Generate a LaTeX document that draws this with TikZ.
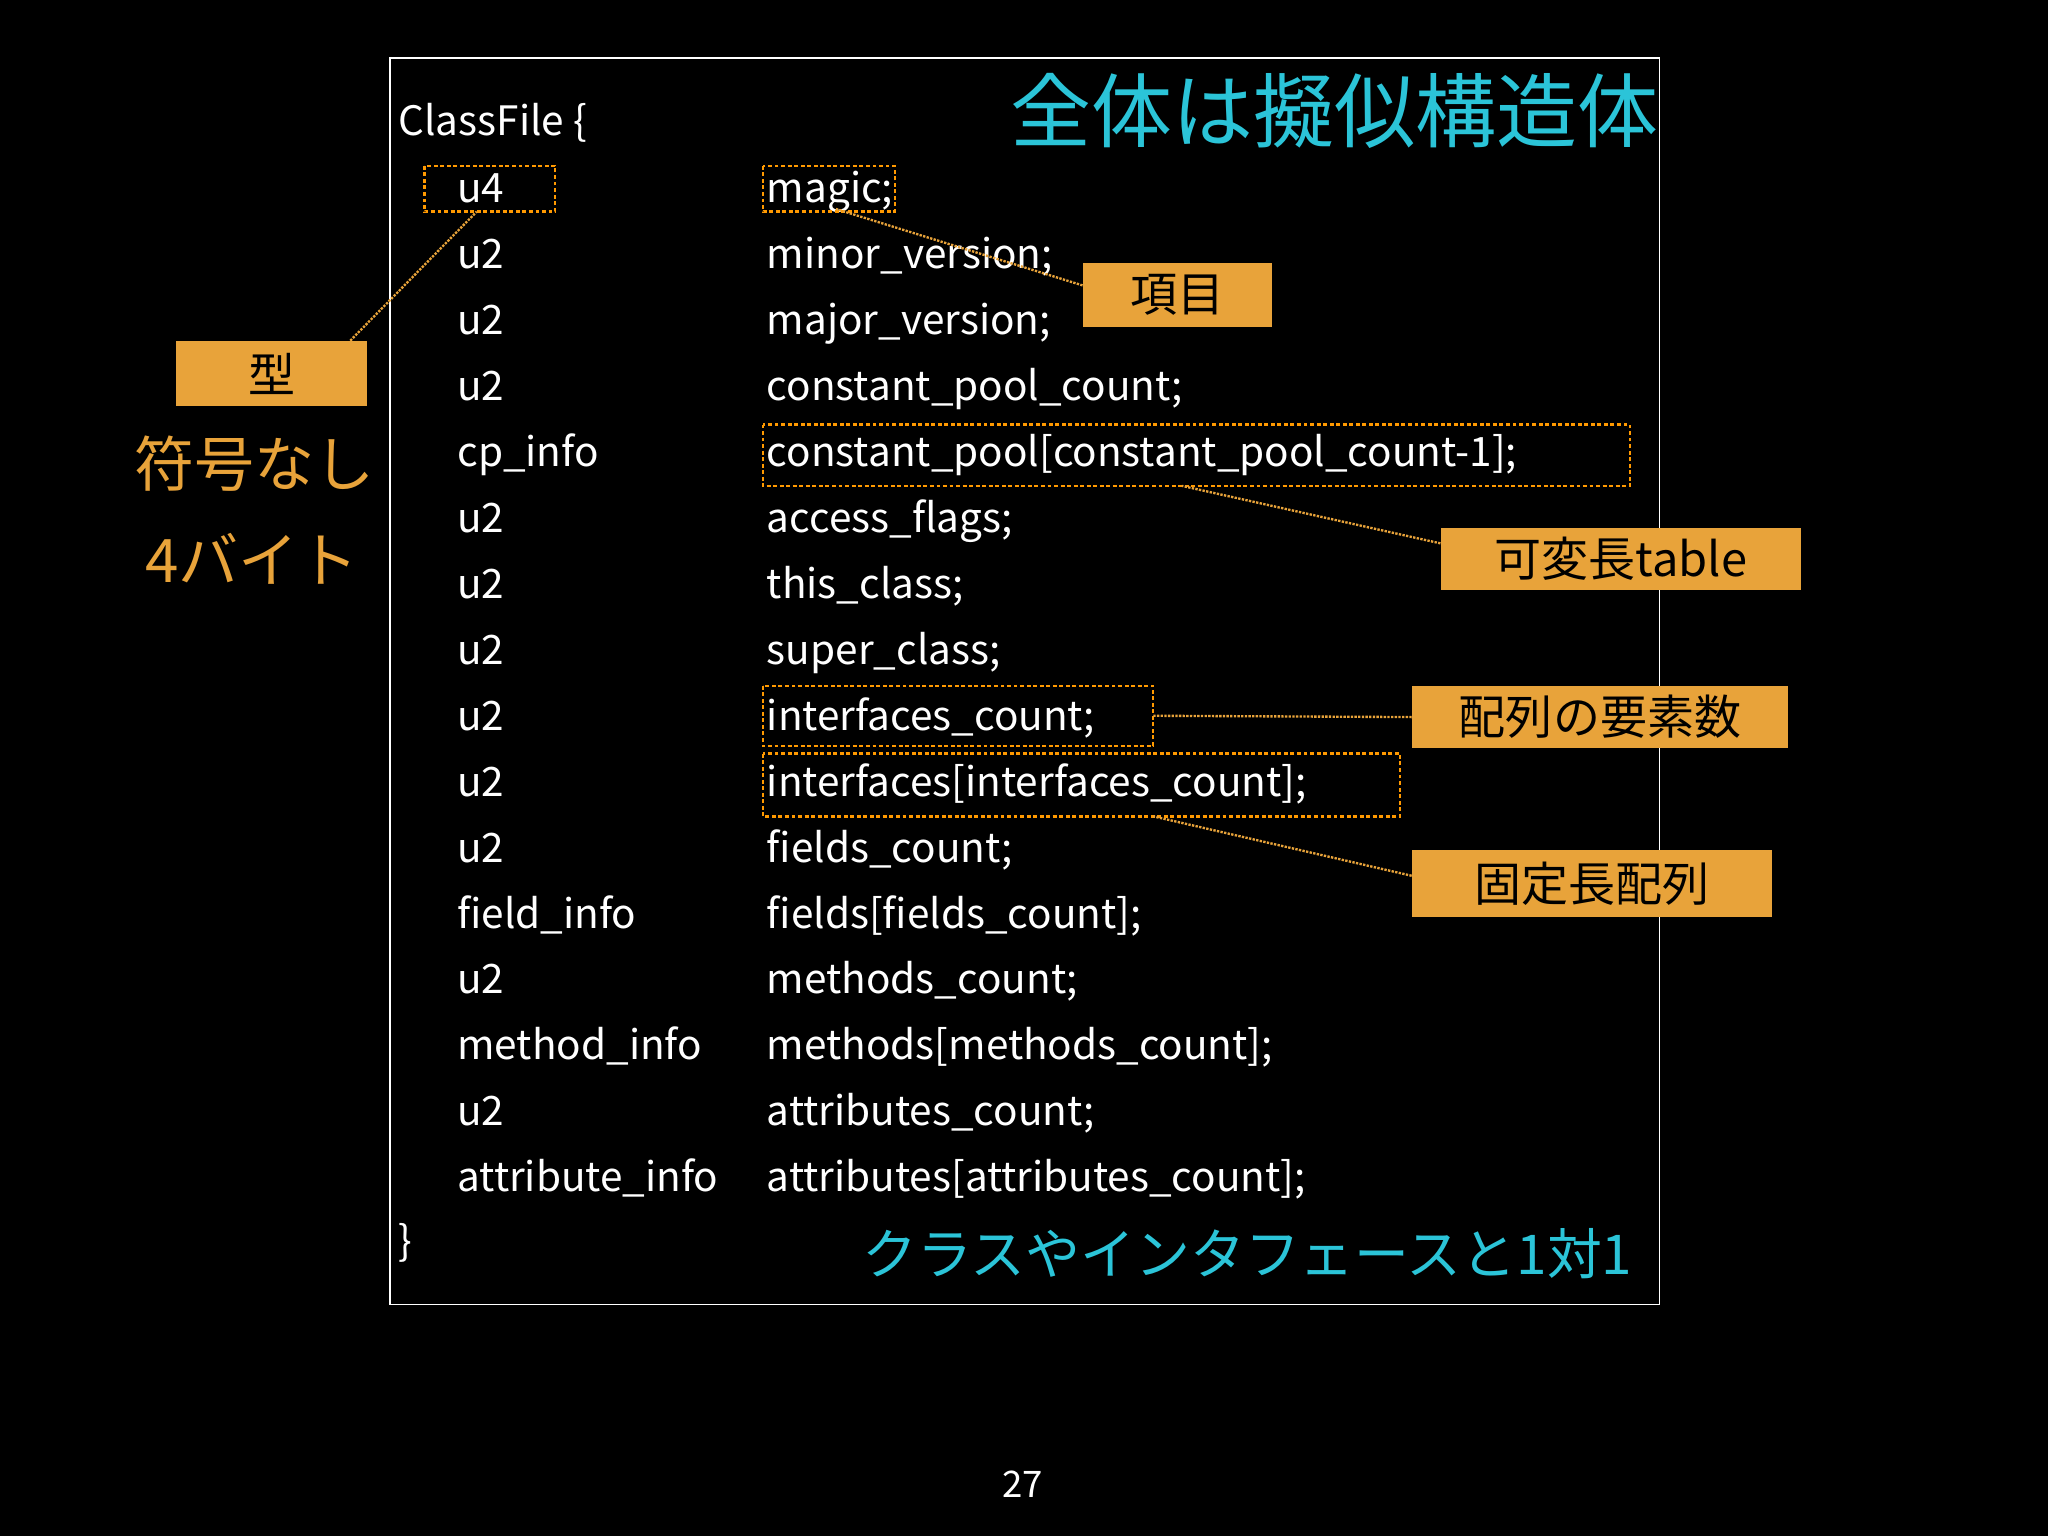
\documentclass[tikz,border=0pt]{standalone}
\usepackage{fontspec}
\setmainfont{Noto Sans CJK JP}
\begin{document}
\begin{tikzpicture}[x=1pt,y=-1pt,
  tx/.style={text=white,font=\fontsize{31}{31}\selectfont,anchor=base west,inner sep=0},
  obox/.style={draw=orange!80!yellow,line width=1.8pt,densely dashed},
  olab/.style={fill=oranj,draw=none,text=black,font=\fontsize{36}{36}\selectfont,inner sep=0,anchor=center},
  oline/.style={draw=oranj,line width=1.8pt,densely dotted}]
\definecolor{oranj}{HTML}{E8A33A}
\definecolor{cyn}{HTML}{2BC4D8}
\fill[black] (0,0) rectangle (1568,1176);
\useasboundingbox (0,0) rectangle (1568,1176);
\node[draw=white,line width=1pt,minimum width=972,minimum height=954,anchor=north west,inner sep=0] (frame) at (298,44) {};
\node[tx] (cf) at (305,104) {ClassFile \{};
\foreach \i/\t/\n in {0/u4/magic;,1/u2/minor\_version;,2/u2/major\_version;,3/u2/constant\_pool\_count;,4/cp\_info/constant\_pool[constant\_pool\_count-1];,5/u2/access\_flags;,6/u2/this\_class;,7/u2/super\_class;,8/u2/interfaces\_count;,9/u2/interfaces[interfaces\_count];,10/u2/fields\_count;,11/field\_info/fields[fields\_count];,12/u2/methods\_count;,13/method\_info/methods[methods\_count];,14/u2/attributes\_count;,15/attribute\_info/attributes[attributes\_count];}{
  \node[tx] (a\i) at (350,155+50.5*\i) {\t};
  \node[tx] (b\i) at (587,155+50.5*\i) {\n};
}
\node[tx] (cl) at (305,961) {\}};
\node[text=cyn,font=\fontsize{62}{62}\selectfont,anchor=east,inner sep=0] (title) at (1270,85) {全体は擬似構造体};
\node[text=cyn,font=\fontsize{42}{42}\selectfont,anchor=east,inner sep=0] (sub) at (1250,960) {クラスやインタフェースと1対1};
% boxes
\draw[obox] (325,127) rectangle (425,162);
\coordinate (u4b) at (365,162);
\draw[obox] (584,127) rectangle (685,162);
\coordinate (mgb) at (640,160);
\draw[obox] (584,325) rectangle (1248,372);
\coordinate (cpb) at (905,372);
\draw[obox] (584,525) rectangle (883,571);
\coordinate (icb) at (883,548);
\draw[obox] (584,577) rectangle (1072,625);
\coordinate (ifb) at (883,625);
% labels
\node[olab,minimum width=146,minimum height=50] (kata) at (208,286) {型};
\node[olab,minimum width=145,minimum height=49] (kou) at (901.5,225.5) {項目};
\node[olab,minimum width=276,minimum height=48] (kahen) at (1241,428) {可変長table};
\node[olab,minimum width=288,minimum height=48] (hai) at (1225,549) {配列の要素数};
\node[olab,minimum width=276,minimum height=51] (kotei) at (1219,676.5) {固定長配列};
\draw[oline] (kata.north east) ++(-13,0) -- (u4b);
\draw[oline] (kou.west) ++(0,-7) -- (mgb);
\draw[oline] (kahen.west) ++(0,-12) -- (cpb);
\draw[oline] (hai.west) -- (icb);
\draw[oline] (kotei.west) ++(0,-6) -- (ifb);
\node[text=oranj,font=\fontsize{46}{46}\selectfont,inner sep=0] (fg) at (195,355) {符号なし};
\node[text=oranj,font=\fontsize{46}{46}\selectfont,inner sep=0] (fb) at (193,428) {4バイト};
\node[text=white,font=\fontsize{28}{28}\selectfont,inner sep=0] (pg) at (783,1136) {27};
\end{tikzpicture}
\end{document}
